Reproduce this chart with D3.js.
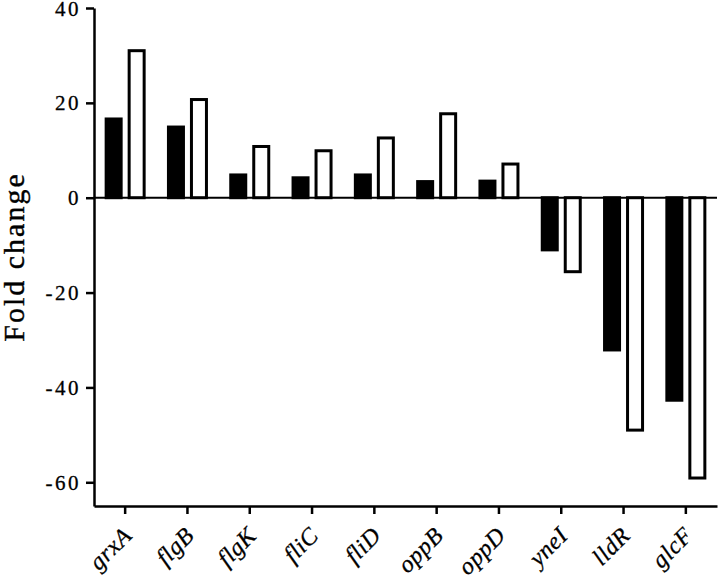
<!DOCTYPE html>
<html>
<head>
<meta charset="utf-8">
<script src="https://cdn.jsdelivr.net/npm/d3@7"></script>
<style>
  html, body { margin: 0; padding: 0; background: #fff; }
  svg { display: block; }
</style>
</head>
<body>
<svg id="chart" width="720" height="576"></svg>
<script>
const categories = ["grxA", "flgB", "flgK", "fliC", "fliD", "oppB", "oppD", "yneI", "lldR", "glcF"];
const seriesNames = ["black", "white"];
const blackValues = [16.6, 14.9, 4.8, 4.2, 4.8, 3.4, 3.5, -11.0, -32.1, -42.7];
const whiteValues = [31.0, 20.7, 10.8, 9.9, 12.6, 17.7, 7.1, -15.6, -49.0, -59.1];
const yTicks = [-60, -40, -20, 0, 20, 40];
const yLabel = "Fold change";

const svg = d3.select("#chart");
const serif = "Liberation Serif, Times New Roman, serif";

const x = d3.scaleBand().domain(categories).range([94, 717]).paddingInner(0).paddingOuter(0);
const bw = x.bandwidth();
const x1 = d3.scaleBand().domain(seriesNames).range([bw / 2 - 23, bw / 2 + 23]);
const y = d3.scaleLinear().domain([-65, 40]).range([506, 8]);

const data = categories.map((c, i) => ({ c, black: blackValues[i], white: whiteValues[i] }));
const barW = 15;

// zero line
svg.append("line")
  .attr("x1", x.range()[0]).attr("x2", x.range()[1])
  .attr("y1", y(0)).attr("y2", y(0))
  .attr("stroke", "#000").attr("stroke-width", 2);

const g = svg.append("g");
data.forEach(d => {
  seriesNames.forEach(s => {
    const v = d[s];
    const cx = x(d.c) + x1(s) + x1.bandwidth() / 2;
    g.append("rect")
      .attr("x", cx - barW / 2)
      .attr("width", barW)
      .attr("y", Math.min(y(0), y(v)))
      .attr("height", Math.abs(y(v) - y(0)))
      .attr("fill", s === "black" ? "#000" : "#fff")
      .attr("stroke", "#000")
      .attr("stroke-width", 3);
  });
});

// y axis
const yAxis = svg.append("g")
  .attr("transform", `translate(${x.range()[0]},0)`)
  .call(d3.axisLeft(y).tickValues(yTicks).tickSize(8).tickSizeOuter(0).tickFormat(d => String(d)));
yAxis.attr("font-family", serif);
yAxis.select(".domain").attr("stroke-width", 2.5);
yAxis.selectAll(".tick line").attr("stroke-width", 2.5);
yAxis.selectAll(".tick text")
  .attr("x", -13)
  .attr("dy", "0.34em")
  .style("font-family", serif)
  .attr("font-size", 21)
  .attr("letter-spacing", 2.5)
  .attr("fill", "#000")
  .attr("stroke", "#000")
  .attr("stroke-width", 0.3);

// x axis
const xAxis = svg.append("g")
  .attr("transform", `translate(0,${y(-65)})`)
  .call(d3.axisBottom(x).tickSize(8).tickSizeOuter(0));
xAxis.attr("font-family", serif);
xAxis.select(".domain").attr("stroke-width", 2.5);
xAxis.selectAll(".tick line").attr("stroke-width", 2.5);
xAxis.selectAll(".tick text")
  .style("font-family", serif)
  .attr("font-style", "italic")
  .attr("font-size", 24)
  .attr("letter-spacing", 0.5)
  .attr("fill", "#000")
  .attr("stroke", "#000")
  .attr("stroke-width", 0.3)
  .attr("text-anchor", "end")
  .attr("dy", null)
  .attr("y", 0)
  .attr("transform", "translate(8,31) rotate(-45)");

// y label
svg.append("text")
  .attr("transform", `translate(24,257) rotate(-90)`)
  .attr("text-anchor", "middle")
  .style("font-family", serif)
  .attr("font-size", 30)
  .attr("letter-spacing", 2)
  .attr("fill", "#000")
  .attr("stroke", "#000")
  .attr("stroke-width", 0.4)
  .text(yLabel);
</script>
</body>
</html>
